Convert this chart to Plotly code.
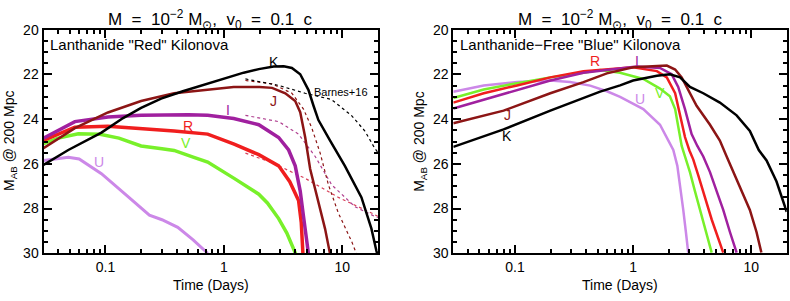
import math
import plotly.graph_objects as go

# ---------------- data: left panel, lanthanide "red" kilonova ----------------
red_K_t = [0.03, 0.0486, 0.0925, 0.141, 0.2, 0.295, 0.45, 0.73, 1.0, 1.47, 1.97, 2.63, 3.2, 3.75, 4.41, 5.18, 5.71, 6.28, 7.88, 10.5, 14.5, 17.6, 19.4, 20]
red_K_m = [26.05, 25.38, 24.6, 23.95, 23.5, 23.08, 22.75, 22.42, 22.2, 21.92, 21.76, 21.64, 21.63, 21.71, 21.99, 22.7, 23.4, 24.04, 24.96, 26.09, 27.5, 28.9, 29.9, 30.15]
red_J_t = [0.03, 0.0552, 0.105, 0.2, 0.38, 0.73, 1.21, 2.0, 2.55, 3.3, 4.0, 4.41, 4.86, 5.35, 6.28, 7.15, 7.88, 8.0]
red_J_m = [25.3, 24.4, 23.7, 23.19, 22.84, 22.7, 22.56, 22.56, 22.6, 22.84, 23.19, 23.69, 24.82, 26.23, 27.78, 28.91, 30.04, 30.2]
red_I_t = [0.03, 0.0552, 0.105, 0.2, 0.5, 0.73, 1.21, 1.97, 2.9, 3.52, 4.0, 4.41, 4.7, 5.01, 5.18]
red_I_m = [24.85, 24.11, 23.9, 23.83, 23.8, 23.83, 23.97, 24.25, 24.82, 25.38, 26.09, 27.22, 28.35, 29.48, 30.04]
red_R_t = [0.03, 0.0552, 0.105, 0.2, 0.38, 0.73, 1.22, 1.97, 2.9, 3.6, 4.27, 4.5, 4.65]
red_R_m = [24.95, 24.36, 24.32, 24.42, 24.53, 24.67, 25.12, 25.59, 26.09, 26.8, 27.64, 28.63, 30.04]
red_V_t = [0.03, 0.04, 0.059, 0.09, 0.13, 0.2, 0.3, 0.38, 0.55, 0.73, 1.22, 1.97, 2.33, 2.9, 3.4, 3.75, 4.03]
red_V_m = [25.1, 24.85, 24.65, 24.68, 24.85, 25.2, 25.32, 25.4, 25.7, 25.92, 26.65, 27.36, 27.75, 28.45, 29.1, 29.6, 30.02]
red_U_t = [0.03, 0.04, 0.0486, 0.06, 0.0925, 0.15, 0.21, 0.235, 0.3, 0.408, 0.55, 0.73]
red_U_m = [25.85, 25.75, 25.7, 25.78, 26.44, 27.4, 28.1, 28.3, 28.5, 28.84, 29.4, 30.0]

# Barnes+16 comparison curves (dotted)
red_KB_t = [1.52, 2.9, 4.86, 8.09, 11.9, 15.5, 18.8, 20]
red_KB_m = [22.2, 22.49, 22.84, 23.12, 23.83, 24.53, 25.31, 25.5]
red_JB_t = [1.52, 2.55, 3.75, 4.7, 5.52, 6.5, 7.63, 9.25, 12.0, 13.2]
red_JB_m = [22.27, 22.42, 22.84, 23.55, 24.39, 25.52, 26.94, 28.2, 29.48, 30.04]
red_IB_t = [1.52, 2.9, 4.27, 5.9, 8.13, 12.8, 18.8, 20]
red_IB_m = [23.83, 24.11, 24.67, 25.67, 26.94, 27.92, 28.35, 28.4]
red_RB_t = [1.52, 2.55, 4.86, 9.25, 17.6, 20]
red_RB_m = [25.52, 25.95, 26.65, 27.5, 28.2, 28.35]

# ---------------- data: right panel, lanthanide-free "blue" kilonova ----------------
blue_K_t = [0.03, 0.08, 0.199, 0.38, 0.526, 0.776, 1.0, 1.59, 2.05, 2.5, 3.03, 3.93, 5.43, 7.53, 9.75, 11.6, 13.5, 16.4, 19.3, 20]
blue_K_m = [25.24, 24.46, 23.62, 23.05, 22.77, 22.49, 22.27, 22.06, 21.99, 22.13, 22.56, 22.84, 23.26, 23.83, 24.53, 25.38, 25.85, 26.79, 27.92, 28.15]
blue_J_t = [0.03, 0.08, 0.199, 0.38, 0.6, 0.776, 1.0, 1.93, 2.27, 2.58, 2.93, 3.45, 4.48, 5.43, 6.2, 7.05, 8.3, 9.75, 11.1, 12.2]
blue_J_m = [24.18, 23.62, 22.84, 22.34, 21.95, 21.8, 21.68, 21.6, 21.78, 22.13, 22.7, 23.4, 24.25, 24.96, 25.67, 26.37, 27.22, 28.06, 29.05, 29.97]
blue_I_t = [0.03, 0.0543, 0.104, 0.199, 0.38, 0.776, 1.07, 1.69, 2.12, 2.41, 2.75, 3.13, 3.5, 3.93, 4.48, 5.1, 5.8, 6.61, 7.53]
blue_I_m = [23.52, 23.12, 22.7, 22.27, 21.92, 21.71, 21.64, 21.71, 21.99, 22.56, 23.55, 24.67, 25.2, 25.67, 26.37, 27.22, 28.06, 29.05, 29.97]
blue_R_t = [0.03, 0.0543, 0.104, 0.199, 0.38, 0.776, 1.0, 1.59, 1.93, 2.27, 2.5, 2.75, 3.0, 3.23, 3.56, 4.06, 4.63, 5.26, 5.8]
blue_R_m = [23.26, 22.84, 22.49, 22.13, 21.85, 21.71, 21.68, 21.85, 22.13, 22.84, 23.83, 24.8, 25.4, 25.8, 26.51, 27.5, 28.49, 29.33, 29.97]
blue_V_t = [0.03, 0.0543, 0.104, 0.199, 0.38, 0.526, 0.776, 1.22, 1.69, 2.05, 2.27, 2.41, 2.58, 2.75, 3.03, 3.34, 3.68, 4.14, 4.63]
blue_V_m = [23.05, 22.67, 22.39, 22.13, 21.92, 21.8, 21.92, 22.2, 22.63, 22.98, 23.55, 24.39, 25.2, 25.67, 26.37, 27.22, 28.06, 29.05, 29.97]
blue_U_t = [0.03, 0.0543, 0.104, 0.199, 0.293, 0.433, 0.6, 0.776, 1.22, 1.69, 1.99, 2.19, 2.37, 2.53, 2.66, 2.8, 2.93]
blue_U_m = [22.77, 22.49, 22.34, 22.27, 22.34, 22.5, 22.75, 23.0, 23.55, 24.25, 24.96, 25.38, 26.09, 27.08, 28.06, 29.05, 29.97]

# band labels: (text, t, mag)
red_labels = [("K", 2.63, 21.44), ("J", 2.63, 23.18), ("I", 1.08, 23.6), ("R", 0.50, 24.32), ("V", 0.48, 25.08), ("U", 0.089, 25.93)]
blue_labels = [("R", 0.477, 21.40), ("I", 1.07, 21.40), ("V", 1.69, 22.84), ("U", 1.15, 23.12), ("J", 0.0856, 23.83), ("K", 0.0856, 24.75)]

x_major = [0.1, 1, 10]
x_major_text = ["0.1", "1", "10"]
x_minor = [0.03, 0.04, 0.05, 0.06, 0.07, 0.08, 0.09, 0.2, 0.3, 0.4, 0.5, 0.6, 0.7, 0.8, 0.9,
           2, 3, 4, 5, 6, 7, 8, 9, 20]
y_major = [20, 22, 24, 26, 28, 30]

COL = {"K": "#000000", "J": "#8C1515", "I": "#A0209F", "R": "#F01E1E", "V": "#78F02A", "U": "#CC88E8"}
DOT = {"K": "#000000", "J": "#8C1515", "I": "#B04090", "R": "#D8405A"}

FONT = "Liberation Sans, Arial, sans-serif"
W, H = 790, 301

fig = go.Figure()

def add_line(t, m, color, width, xa, ya, dash="solid"):
    fig.add_trace(go.Scatter(x=t, y=m, mode="lines", xaxis=xa, yaxis=ya,
                             line=dict(color=color, width=width, dash=dash),
                             hoverinfo="skip", showlegend=False))

# left panel
add_line(red_RB_t, red_RB_m, DOT["R"], 1.2, "x", "y", "dot")
add_line(red_IB_t, red_IB_m, DOT["I"], 1.2, "x", "y", "dot")
add_line(red_JB_t, red_JB_m, DOT["J"], 1.2, "x", "y", "dot")
add_line(red_KB_t, red_KB_m, DOT["K"], 1.2, "x", "y", "dot")
add_line(red_U_t, red_U_m, COL["U"], 3, "x", "y")
add_line(red_V_t, red_V_m, COL["V"], 3.5, "x", "y")
add_line(red_R_t, red_R_m, COL["R"], 3.5, "x", "y")
add_line(red_I_t, red_I_m, COL["I"], 3.5, "x", "y")
add_line(red_J_t, red_J_m, COL["J"], 2.5, "x", "y")
add_line(red_K_t, red_K_m, COL["K"], 2.5, "x", "y")

# right panel
add_line(blue_U_t, blue_U_m, COL["U"], 2.5, "x2", "y2")
add_line(blue_V_t, blue_V_m, COL["V"], 2.5, "x2", "y2")
add_line(blue_R_t, blue_R_m, COL["R"], 2.5, "x2", "y2")
add_line(blue_I_t, blue_I_m, COL["I"], 2.5, "x2", "y2")
add_line(blue_J_t, blue_J_m, COL["J"], 2.5, "x2", "y2")
add_line(blue_K_t, blue_K_m, COL["K"], 2.5, "x2", "y2")

xdom1 = [43.5 / W, 378 / W]
xdom2 = [453.3 / W, 786.7 / W]
ydom = [1 - 259 / H, 1 - 23 / H]

def xaxis(domain, anchor):
    return dict(type="log", range=[math.log10(0.03), math.log10(20)], domain=domain, anchor=anchor,
                tickvals=x_major, ticktext=x_major_text,
                showline=True, linecolor="black", linewidth=2, mirror="ticks",
                ticks="inside", ticklen=8, tickwidth=1.5, tickcolor="black",
                minor=dict(tickvals=x_minor, ticks="inside", ticklen=4, tickwidth=1.5, tickcolor="black"),
                showgrid=False, zeroline=False,
                tickfont=dict(family=FONT, size=14, color="black"))

def yaxis(anchor):
    return dict(range=[30, 20], domain=ydom, anchor=anchor, tickvals=y_major,
                showline=True, linecolor="black", linewidth=2, mirror="ticks",
                ticks="inside", ticklen=8, tickwidth=1.5, tickcolor="black",
                minor=dict(dtick=0.5, ticks="inside", ticklen=4, tickwidth=1.5, tickcolor="black"),
                showgrid=False, zeroline=False,
                tickfont=dict(family=FONT, size=14, color="black"))

ann = []
title = "M  =  10<sup>−2</sup> M<sub>⊙</sub>,  v<sub>0</sub>  =  0.1  c"
for dom, xr, yr, lab, labels in [(xdom1, "x", "y", 'Lanthanide "Red" Kilonova', red_labels),
                                 (xdom2, "x2", "y2", 'Lanthanide−Free "Blue" Kilonova', blue_labels)]:
    cx = (dom[0] + dom[1]) / 2
    ann.append(dict(text=title, x=cx, y=1 - 12 / H, xref="paper", yref="paper", showarrow=False,
                    xanchor="center", yanchor="middle", font=dict(family=FONT, size=17, color="black")))
    ann.append(dict(text="Time (Days)", x=cx, y=1 - 293 / H, xref="paper", yref="paper", showarrow=False,
                    xanchor="center", yanchor="middle", font=dict(family=FONT, size=14, color="black")))
    ann.append(dict(text="M<sub>AB</sub> @ 200 Mpc", x=(dom[0] * W - 34) / W, y=(ydom[0] + ydom[1]) / 2,
                    xref="paper", yref="paper", showarrow=False, textangle=-90,
                    xanchor="center", yanchor="middle", font=dict(family=FONT, size=14, color="black")))
    ann.append(dict(text=lab, x=0.013, y=0.936, xref=xr + " domain", yref=yr + " domain", showarrow=False,
                    xanchor="left", yanchor="middle", font=dict(family=FONT, size=15, color="black")))
    for txt, t, m in labels:
        ann.append(dict(text=txt, x=math.log10(t), y=m, xref=xr, yref=yr, showarrow=False,
                        xanchor="center", yanchor="middle", font=dict(family=FONT, size=14, color=COL[txt])))

ann.append(dict(text="Barnes+16", x=math.log10(9.8), y=22.8, xref="x", yref="y", showarrow=False,
                xanchor="center", yanchor="middle", font=dict(family=FONT, size=11, color="black")))

fig.update_layout(width=W, height=H, autosize=False, margin=dict(l=0, r=0, t=0, b=0),
                  paper_bgcolor="white", plot_bgcolor="white",
                  xaxis=xaxis(xdom1, "y"), yaxis=yaxis("x"),
                  xaxis2=xaxis(xdom2, "y2"), yaxis2=yaxis("x2"),
                  annotations=ann, showlegend=False)

fig.write_html("out.html", config={"displayModeBar": False},
               post_script="document.body.style.margin='0';document.body.style.overflow='hidden';")
